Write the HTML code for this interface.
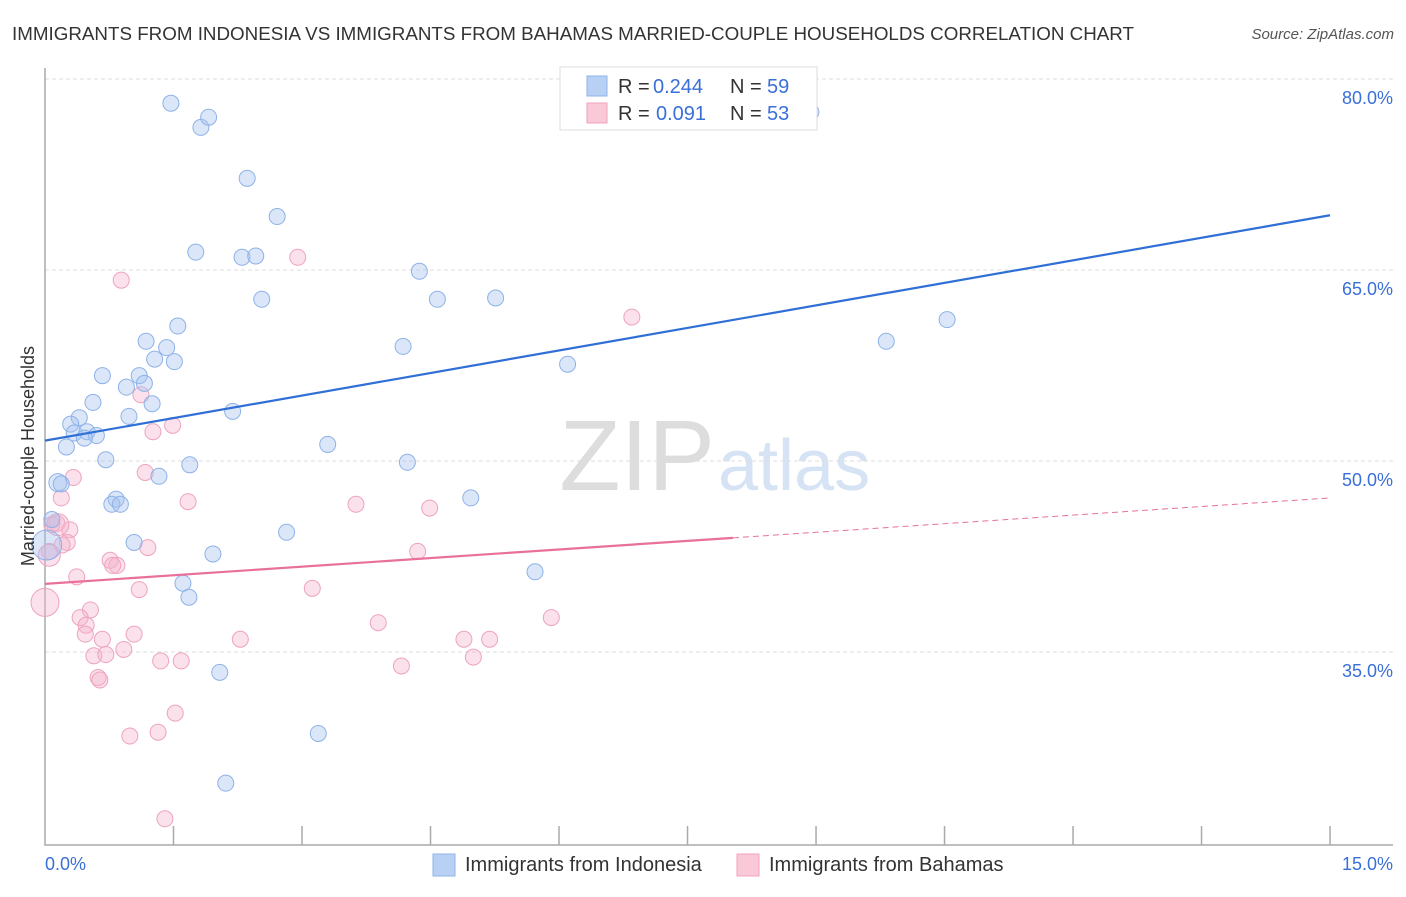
<!DOCTYPE html>
<html><head><meta charset="utf-8"><style>
body{margin:0;background:#fff;font-family:"Liberation Sans",sans-serif;}
svg text{font-family:"Liberation Sans",sans-serif;}
</style></head><body>
<svg id="c" width="1406" height="892">
<text x="12" y="40" font-size="18" fill="#333" textLength="1122" lengthAdjust="spacingAndGlyphs">IMMIGRANTS FROM INDONESIA VS IMMIGRANTS FROM BAHAMAS MARRIED-COUPLE HOUSEHOLDS CORRELATION CHART</text>
<text x="1394" y="39" font-size="15" fill="#555" text-anchor="end" font-style="italic">Source: ZipAtlas.com</text>
<text x="715" y="490" font-size="100" fill="#ddd" text-anchor="end" font-family="Liberation Serif">ZIP</text>
<text x="718" y="490" font-size="72" fill="#d5e3f5">atlas</text>
<g id="grid"></g><g id="pts"></g><g id="lines"></g>
<text transform="translate(34,456) rotate(-90)" font-size="18" fill="#333" text-anchor="middle">Married-couple Households</text>
<text x="45" y="870" font-size="18" fill="#3a6fd8">0.0%</text>
<text x="1393" y="870" font-size="18" fill="#3a6fd8" text-anchor="end">15.0%</text>
<g>
<rect x="560" y="67" width="257" height="63" fill="#fff" stroke="#ddd"/>
<rect x="587" y="76" width="20" height="20" fill="#b9d0f5" stroke="#8fb3e8"/>
<text x="618" y="93" font-size="20" fill="#333">R =</text>
<text x="653" y="93" font-size="20" fill="#3a6fd8">0.244</text>
<text x="730" y="93" font-size="20" fill="#333">N =</text>
<text x="767" y="93" font-size="20" fill="#3a6fd8">59</text>
<rect x="587" y="103" width="20" height="20" fill="#f9c9d8" stroke="#f0a0bc"/>
<text x="618" y="120" font-size="20" fill="#333">R =</text>
<text x="656" y="120" font-size="20" fill="#3a6fd8">0.091</text>
<text x="730" y="120" font-size="20" fill="#333">N =</text>
<text x="767" y="120" font-size="20" fill="#3a6fd8">53</text>
</g>
<g>
<rect x="433" y="854" width="22" height="22" fill="#b9d0f5" stroke="#8fb3e8"/>
<text x="465" y="871" font-size="20" fill="#333">Immigrants from Indonesia</text></g>
<g>
<rect x="737" y="854" width="22" height="22" fill="#f9c9d8" stroke="#f0a0bc"/>
<text x="769" y="871" font-size="20" fill="#333">Immigrants from Bahamas</text></g>
</svg>
<script>
const yTicks=[80,65,50,35];
const yTickLabels=["80.0%","65.0%","50.0%","35.0%"];
const blueX=[1.47,1.82,1.91,2.36,2.71,1.76,2.30,2.46,2.53,4.37,4.58,5.26,8.94,9.82,10.53,4.18,6.10,1.18,1.55,1.42,1.28,1.51,0.67,1.10,1.16,0.95,0.56,1.25,0.40,0.98,0.30,2.19,0.34,0.49,0.60,0.46,0.25,3.30,0.71,1.69,4.23,1.33,0.15,0.19,0.83,0.78,0.88,4.97,0.08,1.04,2.82,1.96,1.61,1.68,5.72,2.04,3.19,2.11,0.02];
const blueY=[78.1,76.2,77.0,72.2,69.2,66.4,66.0,66.1,62.7,64.9,62.7,62.8,77.4,59.4,61.1,59.0,57.6,59.4,60.6,58.9,58.0,57.8,56.7,56.7,56.1,55.8,54.6,54.5,53.4,53.5,52.9,53.9,52.2,52.3,52.0,51.8,51.1,51.3,50.1,49.7,49.9,48.8,48.3,48.2,47.0,46.6,46.6,47.1,45.4,43.6,44.4,42.7,40.4,39.3,41.3,33.4,28.6,24.7,43.4];
const pinkX=[0.89,2.95,6.85,1.12,1.49,1.26,1.17,0.33,0.19,1.67,3.63,4.49,0.14,0.29,0.08,0.26,0.20,1.20,0.05,0.76,0.84,0.79,4.35,0.37,1.10,3.12,0.53,0.41,0.48,0.47,1.04,0.67,3.89,5.91,4.89,5.19,2.28,0.92,0.57,0.71,1.35,1.59,5.00,4.16,0.62,0.64,1.52,1.32,0.99,1.40,0.0,0.05,0.15];
const pinkY=[64.2,66.0,61.3,55.2,52.8,52.3,49.1,48.7,47.1,46.8,46.6,46.3,45.1,44.6,45.0,43.6,43.4,43.2,42.9,42.2,41.8,41.8,42.9,40.9,39.9,40.0,38.3,37.7,37.1,36.4,36.4,36.0,37.3,37.7,36.0,36.0,36.0,35.2,34.7,34.8,34.3,34.3,34.6,33.9,33.0,32.8,30.2,28.7,28.4,21.9,38.9,42.6,45.0];
const blueLine=[51.6,69.3];
const pinkLine=[40.35,47.1];
const pinkSolidEnd=8.03;
const X=v=>45+v*85.67, Y=v=>79+(80-v)*12.733;
const NS="http://www.w3.org/2000/svg";
function mk(t,a,p){const e=document.createElementNS(NS,t);for(const k in a)e.setAttribute(k,a[k]);p.appendChild(e);return e;}
const g=document.getElementById('grid');
yTicks.forEach((t,i)=>{
 const l=mk('line',{x1:45,x2:1393,y1:Y(t),y2:Y(t),stroke:'#ddd','stroke-dasharray':'4,3'},g);
 
 
 const tx=mk('text',{x:1393,y:Y(t)+25,'font-size':18,fill:'#3a6fd8','text-anchor':'end'},g);
 tx.textContent=yTickLabels[i];
 
 
});
const ax=mk('path',{d:'M45,68V845H1393',fill:'none',stroke:'#aaa','stroke-width':1.5},g);


for(let i=1;i<=10;i++){const t=mk('line',{x1:X(i*1.5),x2:X(i*1.5),y1:826,y2:845,stroke:'#aaa','stroke-width':1.5},g);
 
 }
const P=document.getElementById('pts');
function pts(xs,ys,fill,stroke,name,big){xs.forEach((x,i)=>{
 const r=big[i]||8;
 const c=mk('circle',{cx:X(x),cy:Y(ys[i]),r:r,fill:fill,stroke:stroke,'stroke-width':1},P);
 
 });}
pts(pinkX,pinkY,'rgba(246,180,204,0.4)','#eea3bf','bahamas-point',{50:14,51:11,52:11});
pts(blueX,blueY,'rgba(165,195,240,0.4)','#8db2e8','indonesia-point',{58:15,42:9});
const L=document.getElementById('lines');
const bl=mk('line',{x1:X(0),y1:Y(blueLine[0]),x2:X(15),y2:Y(blueLine[1]),stroke:'#2f6fd6','stroke-width':2.2},L);


const pm=pinkLine[0]+(pinkLine[1]-pinkLine[0])*pinkSolidEnd/15;
const pl=mk('line',{x1:X(0),y1:Y(pinkLine[0]),x2:X(pinkSolidEnd),y2:Y(pm),stroke:'#e8709a','stroke-width':2.2},L);


const pd=mk('line',{x1:X(pinkSolidEnd),y1:Y(pm),x2:X(15),y2:Y(pinkLine[1]),stroke:'#e8709a','stroke-width':1,'stroke-dasharray':'6,4'},L);


</script>
</body></html>
